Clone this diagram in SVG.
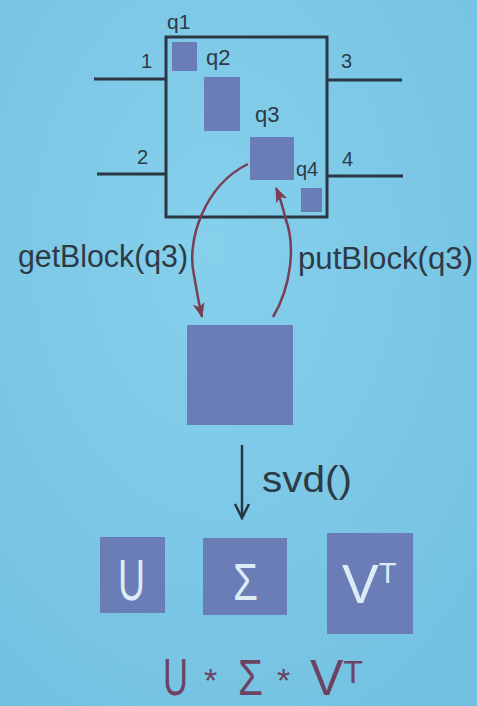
<svg xmlns="http://www.w3.org/2000/svg" width="477" height="706" viewBox="0 0 477 706">
<defs>
<radialGradient id="bg" cx="0.45" cy="0.35" r="0.8">
<stop offset="0" stop-color="#86d0ec"/>
<stop offset="1" stop-color="#72c0e0"/>
</radialGradient>
<marker id="ah" markerUnits="userSpaceOnUse" markerWidth="16" markerHeight="16" viewBox="0 0 16 16" refX="14" refY="8" orient="auto">
<path d="M0,2 L15,8 L0,14 L4,8 Z" fill="#7a3d55"/>
</marker>
</defs>
<style>
.blk{fill:#6a7db6;}
.ln{stroke:#2b3742;stroke-width:3;fill:none;}
.lbl{font-family:"Liberation Sans",Arial,sans-serif;fill:#2e3a46;}
.arc{stroke:#7a3d55;stroke-width:2.5;fill:none;marker-end:url(#ah);}
.wl{font-family:"Liberation Sans",Arial,sans-serif;fill:#dcecf5;}
.fm{font-family:"Liberation Sans",Arial,sans-serif;fill:#6d4262;}
</style>
<rect width="477" height="706" fill="url(#bg)"/>

<g id="matrix">
<rect x="166" y="37" width="161" height="180" class="ln"/>
<line x1="94" y1="79" x2="166" y2="79" class="ln"/>
<line x1="97" y1="174" x2="166" y2="174" class="ln"/>
<line x1="327" y1="80" x2="402" y2="80" class="ln"/>
<line x1="327" y1="176" x2="403" y2="176" class="ln"/>
<text x="141" y="68" class="lbl" font-size="20">1</text>
<text x="137" y="164" class="lbl" font-size="20">2</text>
<text x="341" y="68" class="lbl" font-size="20">3</text>
<text x="342" y="166" class="lbl" font-size="20">4</text>
</g>
<g id="q1">
<rect x="172" y="42" width="25" height="29" class="blk"/>
<text x="167" y="29" class="lbl" font-size="21">q1</text>
</g>
<g id="q2">
<rect x="204" y="77" width="36" height="54" class="blk"/>
<text x="206" y="65" class="lbl" font-size="22">q2</text>
</g>
<g id="q3">
<rect x="250" y="137" width="44" height="43" class="blk"/>
<text x="255" y="122" class="lbl" font-size="22">q3</text>
</g>
<g id="q4">
<rect x="301" y="188" width="21" height="24" class="blk"/>
<text x="296" y="176" class="lbl" font-size="20">q4</text>
</g>

<g id="block">
<rect x="187" y="325" width="106" height="100" class="blk"/>
</g>

<g id="connectors">
<path d="M248,164 C205,185 186,240 194,275 C197,292 199,305 202,317" class="arc"/>
<path d="M273,317 C292,285 295,245 286,220 C283,208 280,197 276,188" class="arc"/>
<line x1="242" y1="445" x2="242" y2="517" stroke="#2b3742" stroke-width="2.5"/>
<polyline points="235,504 242,518 249,504" fill="none" stroke="#2b3742" stroke-width="2.5"/>
</g>

<g id="labels">
<text x="18" y="267" class="lbl" font-size="31" textLength="170" lengthAdjust="spacingAndGlyphs">getBlock(q3)</text>
<text x="298" y="269" class="lbl" font-size="31" textLength="175" lengthAdjust="spacingAndGlyphs">putBlock(q3)</text>
<text x="262" y="492" class="lbl" font-size="36" textLength="90" lengthAdjust="spacingAndGlyphs">svd()</text>
</g>

<g id="U">
<rect x="100" y="537" width="65" height="76" class="blk"/>
<text x="118" y="600" class="wl" font-size="58" textLength="27" lengthAdjust="spacingAndGlyphs">U</text>
</g>
<g id="Sigma">
<rect x="203" y="538" width="84" height="77" class="blk"/>
<text x="233" y="600" class="wl" font-size="52" textLength="25" lengthAdjust="spacingAndGlyphs">Σ</text>
</g>
<g id="VT">
<rect x="327" y="533" width="86" height="101" class="blk"/>
<text x="342" y="603" class="wl" font-size="55">V<tspan font-size="29" dy="-20">T</tspan></text>
</g>

<g id="formula">
<text x="163" y="695" class="fm" font-size="52" textLength="25" lengthAdjust="spacingAndGlyphs">U</text>
<text x="204" y="692" class="fm" font-size="34">*</text>
<text x="238" y="695" class="fm" font-size="50" textLength="25" lengthAdjust="spacingAndGlyphs">Σ</text>
<text x="277" y="692" class="fm" font-size="34">*</text>
<text x="310" y="695" class="fm" font-size="50">V<tspan font-size="32" dy="-12">T</tspan></text>
</g>
</svg>
